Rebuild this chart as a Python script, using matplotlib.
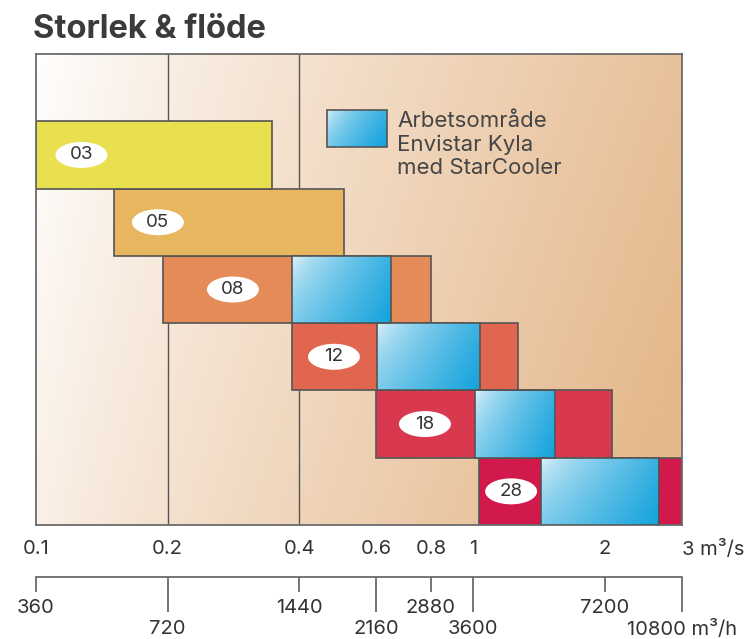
import numpy as np
import matplotlib
matplotlib.use("Agg")
import matplotlib.pyplot as plt
from matplotlib.path import Path
from matplotlib.transforms import Affine2D
from matplotlib.ticker import NullLocator
from matplotlib.colors import to_rgb

# ---------------- data ----------------
sizes = ["28", "18", "12", "08", "05", "03"]          # bottom row -> top row
row_start = [1.03, 0.60, 0.384, 0.195, 0.151, 0.10]    # m3/s
row_end = [3.0, 2.07, 1.265, 0.80, 0.505, 0.347]
blue_start = [1.43, 1.007, 0.602, 0.384]               # working range (rows 28..08)
blue_end = [2.66, 1.535, 1.035, 0.649]
label_x = [1.22, 0.775, 0.48, 0.282, 0.19, 0.127]
row_colors = ["#d2194c", "#d8394e", "#e0664f", "#e48b57", "#e7b65e", "#e8e04f"]

ms_ticks = [0.1, 0.2, 0.4, 0.6, 0.8, 1, 2, 3]
ms_labels = ["0.1", "0.2", "0.4", "0.6", "0.8", "1", "2", "3 m³/s"]
mh_short = [360, 1440, 2880, 7200]
mh_short_labels = ["360", "1440", "2880", "7200"]
mh_long = [720, 2160, 3600, 10800]
mh_long_labels = ["720", "2160", "3600", "10800 m³/h"]
grid_x = [0.2, 0.4]

legend_text = "Arbetsområde\nEnvistar Kyla\nmed StarCooler"
title = "Storlek & flöde"

# ---------------- style ----------------
plt.rcParams["font.family"] = ["Inter", "DejaVu Sans"]
TXT = "#333333"
EDGE = "#555555"
FRAME = "#6b6b6b"
TICK_FS = 14.5

fig = plt.figure(figsize=(7.46, 6.39), dpi=100)
fig.patch.set_facecolor("white")
ax = fig.add_axes([36 / 746, 114 / 639, 646 / 746, 471 / 639])
ax.set_xscale("log")
ax.set_xlim(0.1, 3)
ax.set_ylim(0, 7)

# background gradient (white top-left -> peach right)
H, W = 200, 400
u = np.linspace(0, 1, W)[None, :]
vd = np.linspace(0, 1, H)[:, None]
t = np.clip(0.88 * u ** 0.85 + 0.2 * vd, 0, 1)
c0 = np.array(to_rgb("#ffffff"))
c1 = np.array(to_rgb("#e5b98d"))
bg = c0[None, None, :] * (1 - t[..., None]) + c1[None, None, :] * t[..., None]
ax.imshow(bg, extent=(0, 1, 0, 1), transform=ax.transAxes, aspect="auto",
          zorder=0, interpolation="bilinear")

# vertical reference lines
for gx in grid_x:
    ax.axvline(gx, color=EDGE, lw=1.0, zorder=1)

# rows
rows = np.arange(len(sizes))
widths = [e - s for s, e in zip(row_start, row_end)]
ax.barh(rows, widths, left=row_start, height=1, align="edge",
        color=row_colors, edgecolor=EDGE, linewidth=1.2, zorder=2)

# blue working-range boxes with gradient
bh, bw = 60, 120
bu = np.linspace(0, 1, bw)[None, :]
bv = np.linspace(0, 1, bh)[:, None]
bt = np.clip((0.7 * bu + 0.3 * bv), 0, 1) ** 0.55
b0 = np.array(to_rgb("#eef7fb"))
b1 = np.array(to_rgb("#12a2dc"))
blue_img = b0[None, None, :] * (1 - bt[..., None]) + b1[None, None, :] * bt[..., None]

for i, (bs, be) in enumerate(zip(blue_start, blue_end)):
    ax.imshow(blue_img, extent=(bs, be, i, i + 1), aspect="auto", zorder=3,
              interpolation="bilinear")
bwidths = [e - s for s, e in zip(blue_start, blue_end)]
ax.barh(rows[:len(blue_start)], bwidths, left=blue_start, height=1, align="edge",
        facecolor="none", edgecolor=EDGE, linewidth=1.2, zorder=4)

# white ellipse labels
ell = Path.unit_circle().transformed(Affine2D().scale(1.0, 0.5))
ax.scatter(label_x, rows + 0.5, marker=ell, s=1400, c="white",
           edgecolors="none", zorder=5)
for lx, r, s in zip(label_x, rows, sizes):
    ax.text(lx, r + 0.5, s, ha="center", va="center", fontsize=13.5,
            color=TXT, zorder=6)

ax.set_xlim(0.1, 3)
ax.set_ylim(0, 7)

# frame
for sp in ax.spines.values():
    sp.set_color(FRAME)
    sp.set_linewidth(1.3)
ax.set_yticks([])

# top axis labels (m3/s)
ax.set_xticks(ms_ticks, labels=ms_labels)
ax.xaxis.set_minor_locator(NullLocator())
ax.tick_params(axis="x", which="major", length=0, pad=11, labelsize=TICK_FS,
               labelcolor=TXT)
ax.get_xticklabels()[-1].set_horizontalalignment("left")

# lower axis (m3/h)
sec = ax.secondary_xaxis((525 - 577) / 471,
                         functions=(lambda x: x * 3600, lambda x: x / 3600))
sec.set_xticks(mh_long, labels=mh_long_labels)
sec.set_xticks(mh_short, labels=mh_short_labels, minor=True)
sec.spines["bottom"].set_color(FRAME)
sec.spines["bottom"].set_linewidth(1.3)
sec.tick_params(axis="x", which="major", direction="out", length=25, width=1.3,
                color=FRAME, pad=6, labelsize=TICK_FS, labelcolor=TXT)
sec.tick_params(axis="x", which="minor", direction="out", length=10.5, width=1.3,
                color=FRAME, pad=5, labelsize=TICK_FS, labelcolor=TXT)

# legend (custom box + text)
lx0, lx1 = (327 - 36) / 646, (387 - 36) / 646
ly0, ly1 = (525 - 147) / 471, (525 - 110) / 471
ax.imshow(blue_img, extent=(lx0, lx1, ly0, ly1), transform=ax.transAxes,
          aspect="auto", zorder=7, interpolation="bilinear")
ax.add_patch(plt.Rectangle((lx0, ly0), lx1 - lx0, ly1 - ly0, transform=ax.transAxes,
                           facecolor="none", edgecolor=EDGE, lw=1.2, zorder=8))
ax.text((397 - 36) / 646, (525 - 111) / 471, legend_text, transform=ax.transAxes,
        ha="left", va="top", fontsize=16, color="#454545", linespacing=1.2, zorder=8)

ax.set_xlim(0.1, 3)
ax.set_ylim(0, 7)

fig.text(33 / 746, 1 - 14 / 639, title, ha="left", va="top", fontsize=23.5,
         fontweight="bold", color="#3b3b3b")

fig.savefig("out.png", dpi=100, facecolor="white")
